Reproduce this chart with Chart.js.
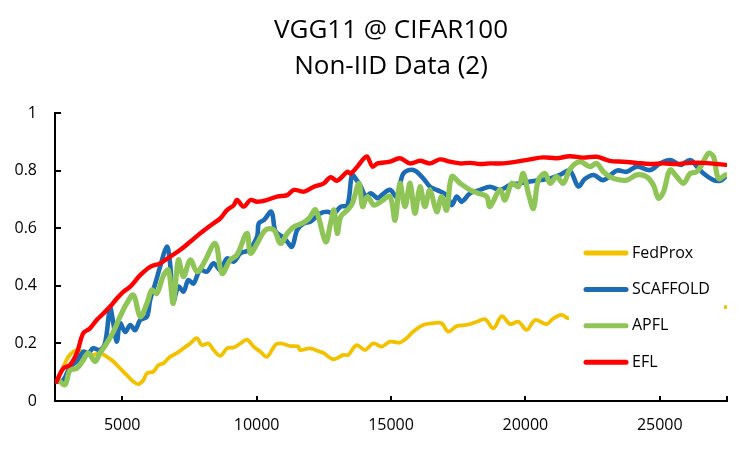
<!DOCTYPE html>
<html><head><meta charset="utf-8">
<script src="https://cdn.jsdelivr.net/npm/chart.js@4"></script>
<style>html,body{margin:0;padding:0;background:#fff}#wrap{width:750px;height:452px}</style>
</head><body><div id="wrap"><canvas id="c" width="750" height="452"></canvas></div>
<script>
const titleLines = ['VGG11 @ CIFAR100', 'Non-IID Data (2)'];
const seriesNames = ['FedProx', 'SCAFFOLD', 'APFL', 'EFL'];
const xTicks = [5000, 10000, 15000, 20000, 25000];
const xMin = 2500, xMax = 27500;
const yTicks = [0, 0.2, 0.4, 0.6, 0.8, 1];

const fedproxX = [2560,2810,3000,3180,3370,3620,3920,4170,4420,4670,4920,5170,5420,5610,5790,5920,6160,6350,6540,6780,7030,7280,7530,7780,7960,8210,8400,8650,8900,9150,9400,9640,9890,10140,10390,10700,10890,11240,11550,11610,11990,12360,12500,12850,13230,13410,13720,14030,14340,14650,14960,15330,15580,15830,16200,16570,16880,17130,17440,17810,18190,18500,18810,19120,19430,19740,20050,20360,20790,21040,21350,21600,22200,23000,24000,25000,26000,27000,27450];
const fedproxY = [0.067,0.119,0.154,0.171,0.177,0.166,0.160,0.166,0.154,0.137,0.113,0.090,0.067,0.059,0.073,0.096,0.102,0.125,0.131,0.154,0.166,0.183,0.200,0.218,0.194,0.200,0.177,0.157,0.183,0.186,0.200,0.213,0.189,0.171,0.154,0.195,0.200,0.191,0.189,0.177,0.183,0.171,0.166,0.145,0.160,0.160,0.194,0.177,0.200,0.189,0.206,0.203,0.218,0.241,0.264,0.270,0.270,0.241,0.260,0.264,0.275,0.284,0.252,0.295,0.267,0.275,0.247,0.281,0.267,0.287,0.299,0.287,0.300,0.305,0.312,0.316,0.320,0.324,0.326];

const scaffoldX = [2550,2810,3060,3310,3550,3740,3920,4170,4360,4550,4670,4800,4920,5110,5300,5480,5670,5920,6040,6230,6410,6660,6780,6900,7090,7280,7460,7650,7900,8150,8400,8650,8900,9150,9400,9710,10020,10080,10270,10550,10700,10950,11140,11320,11510,11760,12010,12380,12630,12880,13130,13380,13550,13700,13880,14060,14250,14500,14590,14960,15210,15460,15830,16200,16450,16700,17070,17260,17450,17630,17940,18310,18680,19060,19430,19800,20170,20540,20920,21290,21650,21970,22200,22530,22900,23400,23770,24150,24640,25010,25390,25760,26130,26380,26630,27000,27250,27450];
const scaffoldY = [0.067,0.073,0.119,0.137,0.171,0.166,0.183,0.177,0.200,0.322,0.270,0.206,0.270,0.240,0.264,0.246,0.281,0.293,0.351,0.408,0.466,0.536,0.478,0.345,0.397,0.380,0.420,0.408,0.455,0.449,0.478,0.455,0.495,0.484,0.513,0.524,0.571,0.617,0.628,0.657,0.590,0.571,0.553,0.536,0.594,0.617,0.623,0.652,0.657,0.652,0.675,0.680,0.785,0.770,0.744,0.710,0.721,0.704,0.710,0.733,0.710,0.790,0.802,0.773,0.744,0.733,0.715,0.680,0.710,0.692,0.721,0.733,0.744,0.733,0.750,0.756,0.762,0.767,0.773,0.785,0.800,0.745,0.770,0.785,0.767,0.800,0.796,0.814,0.802,0.825,0.837,0.820,0.837,0.814,0.790,0.767,0.765,0.779];

const apflX = [2630,2870,3060,3310,3550,3740,3990,4170,4420,4670,4920,5170,5420,5670,5920,6100,6290,6540,6720,6900,7090,7280,7530,7780,8030,8460,8710,9020,9270,9640,9770,10020,10330,10640,10890,11140,11390,11700,11950,12200,12570,12750,12880,13000,13130,13380,13560,13810,13940,14120,14370,14620,14960,15150,15330,15520,15710,15890,16080,16260,16450,16700,16880,17070,17260,17570,17940,18250,18560,18680,19050,19240,19490,19740,19920,20110,20300,20480,20730,20920,21160,21410,21660,22030,22400,22650,22900,23270,23770,24140,24510,24760,24950,25140,25380,25630,25880,26130,26370,26560,26810,27000,27180,27450];
const apflY = [0.073,0.056,0.108,0.113,0.142,0.166,0.137,0.166,0.200,0.240,0.293,0.339,0.368,0.293,0.339,0.385,0.374,0.437,0.455,0.339,0.490,0.432,0.490,0.449,0.478,0.547,0.443,0.490,0.507,0.582,0.513,0.547,0.594,0.594,0.547,0.582,0.605,0.617,0.634,0.663,0.553,0.617,0.663,0.582,0.640,0.663,0.686,0.756,0.675,0.710,0.680,0.692,0.710,0.628,0.756,0.675,0.756,0.652,0.744,0.675,0.733,0.657,0.710,0.663,0.779,0.756,0.733,0.721,0.710,0.675,0.733,0.698,0.756,0.744,0.790,0.721,0.669,0.767,0.790,0.756,0.779,0.756,0.805,0.831,0.814,0.825,0.796,0.773,0.767,0.785,0.779,0.750,0.704,0.727,0.802,0.779,0.756,0.790,0.796,0.820,0.860,0.848,0.773,0.785];

const eflX = [2550,2810,3060,3310,3550,3800,4050,4300,4550,4800,5050,5300,5670,6040,6410,6780,7150,7530,7900,8150,8400,8650,8900,9150,9270,9520,9770,10020,10390,10760,11140,11390,11760,12130,12500,12750,13000,13380,13500,13750,14000,14120,14310,14500,14960,15330,15700,16080,16450,16820,17190,17560,17940,18310,18680,19180,19670,20170,20660,21160,21650,22150,22650,23140,23640,24140,24630,25130,25630,26130,26620,27120,27450];
const eflY = [0.067,0.113,0.125,0.166,0.235,0.252,0.281,0.304,0.328,0.356,0.380,0.397,0.437,0.466,0.478,0.501,0.524,0.553,0.582,0.600,0.617,0.634,0.663,0.680,0.698,0.675,0.698,0.692,0.698,0.710,0.715,0.733,0.727,0.744,0.756,0.777,0.765,0.796,0.790,0.814,0.843,0.848,0.814,0.825,0.831,0.843,0.825,0.834,0.825,0.839,0.831,0.825,0.827,0.823,0.825,0.825,0.831,0.839,0.846,0.843,0.850,0.845,0.848,0.834,0.831,0.827,0.823,0.825,0.823,0.827,0.827,0.823,0.820];

const colors = ['#F2C200', '#1B6CB5', '#8FC456', '#FF0000'];
const widths = [3.8, 4.6, 5.2, 4.4];
const orders = [3, 2, 1, 0];
const xs = [fedproxX, scaffoldX, apflX, eflX];
const ys = [fedproxY, scaffoldY, apflY, eflY];

const FONT = "'Open Sans', 'Noto Sans', sans-serif";

const datasets = seriesNames.map((name, i) => ({
  label: name,
  data: xs[i].map((x, j) => ({ x: x, y: ys[i][j] })),
  borderColor: colors[i],
  backgroundColor: colors[i],
  borderWidth: widths[i],
  pointRadius: 0,
  pointHoverRadius: 0,
  tension: 0.35,
  fill: false,
  borderCapStyle: 'round',
  borderJoinStyle: 'round',
  order: orders[i]
}));

const innerTicks = {
  id: 'innerTicks',
  afterDraw(chart) {
    const ctx = chart.ctx, xs_ = chart.scales.x, ys_ = chart.scales.y, a = chart.chartArea;
    ctx.save();
    ctx.strokeStyle = '#000';
    ctx.lineWidth = 2;
    xTicks.concat([xMax]).forEach(v => {
      const px = Math.round(xs_.getPixelForValue(v));
      ctx.beginPath(); ctx.moveTo(px, a.bottom); ctx.lineTo(px, a.bottom - 5); ctx.stroke();
    });
    yTicks.slice(1).forEach(v => {
      const py = Math.round(ys_.getPixelForValue(v));
      ctx.beginPath(); ctx.moveTo(a.left, py); ctx.lineTo(a.left + 6, py); ctx.stroke();
    });
    ctx.restore();
  }
};

const boxLegend = {
  id: 'boxLegend',
  afterDatasetsDraw(chart) {
    const ctx = chart.ctx, a = chart.chartArea;
    const left = a.right - 158, top = 232;
    ctx.save();
    ctx.fillStyle = '#fff';
    ctx.fillRect(left, top, 155, 154);
    ctx.font = "16px " + FONT;
    ctx.textBaseline = 'middle';
    ctx.textAlign = 'left';
    chart.data.datasets.forEach((ds, i) => {
      const y = top + 21 + i * 36.4;
      ctx.strokeStyle = ds.borderColor;
      ctx.lineWidth = 5;
      ctx.lineCap = 'round';
      ctx.beginPath(); ctx.moveTo(left + 17, y); ctx.lineTo(left + 57, y); ctx.stroke();
      ctx.fillStyle = '#000';
      ctx.fillText(ds.label, left + 63, y);
    });
    ctx.restore();
  }
};

new Chart(document.getElementById('c'), {
  type: 'line',
  data: { datasets: datasets },
  plugins: [innerTicks, boxLegend],
  options: {
    responsive: false,
    devicePixelRatio: 1,
    animation: false,
    layout: { padding: { left: 0, right: 23, top: 0, bottom: 0 } },
    plugins: {
      legend: { display: false },
      tooltip: { enabled: false },
      title: {
        display: true,
        text: titleLines,
        fullSize: false,
        color: '#000',
        font: { family: FONT, size: 26, weight: 'normal', lineHeight: 1.385 },
        padding: { top: 13, bottom: 28 }
      }
    },
    scales: {
      x: {
        type: 'linear',
        min: xMin,
        max: xMax,
        grid: { display: false, drawTicks: false },
        border: { display: true, color: '#000', width: 2 },
        afterBuildTicks: s => { s.ticks = xTicks.concat([xMax]).map(v => ({ value: v })); },
        afterFit: s => { s.height = 51; },
        ticks: {
          autoSkip: false, maxRotation: 0, padding: 15, color: '#000',
          font: { family: FONT, size: 16 },
          callback: v => (xTicks.includes(v) ? String(v) : '')
        }
      },
      y: {
        min: 0,
        max: 1,
        grid: { display: false, drawTicks: false },
        border: { display: true, color: '#000', width: 2 },
        afterBuildTicks: s => { s.ticks = yTicks.map(v => ({ value: v })); },
        afterFit: s => { s.width = 55; },
        ticks: {
          padding: 18, color: '#000',
          font: { family: FONT, size: 16 },
          callback: v => String(v)
        }
      }
    }
  }
});
</script>
</body></html>
